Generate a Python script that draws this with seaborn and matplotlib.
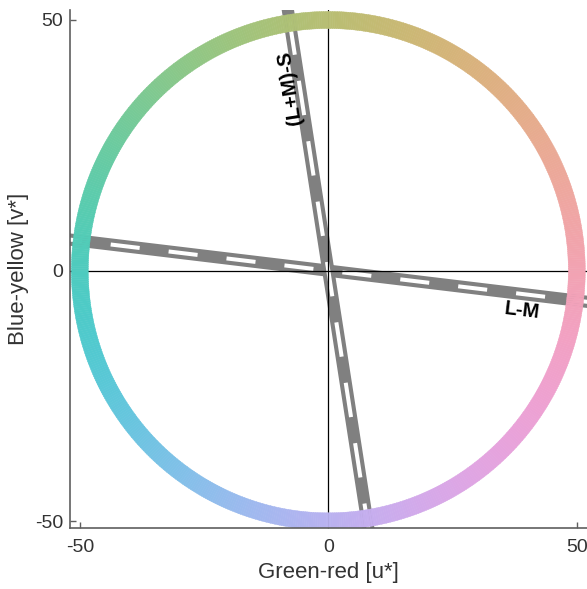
import numpy as np
import pandas as pd
import matplotlib
matplotlib.use("Agg")
import matplotlib.pyplot as plt
from matplotlib.patches import Wedge
import seaborn as sns

# Hue circle in the CIE L*u*v* plane
ring_lightness = 75.0
ring_chroma = 50.0
ring_width = 3.4

# Cone-opponent axes projected into the u*v* plane (direction in degrees)
axis_names = ["L-M", "(L+M)-S"]
axis_angle_deg = [-6.8, 98.9]
axis_label_pos = [(39.0, -8.0), (-7.7, 36.4)]
axis_label_rot = [-6.8, 98.9]

tick_values = [-50, 0, 50]
tick_labels = ["-50", "0", "50"]


def luv_to_srgb(L, u, v):
    xn, yn, zn = 0.95047, 1.0, 1.08883
    un = 4 * xn / (xn + 15 * yn + 3 * zn)
    vn = 9 * yn / (xn + 15 * yn + 3 * zn)
    up = u / (13 * L) + un
    vp = v / (13 * L) + vn
    Y = ((L + 16) / 116) ** 3 if L > 8 else L / 903.3
    X = Y * 9 * up / (4 * vp)
    Z = Y * (12 - 3 * up - 20 * vp) / (4 * vp)
    m = np.array([[3.2406, -1.5372, -0.4986],
                  [-0.9689, 1.8758, 0.0415],
                  [0.0557, -0.2040, 1.0570]])
    rgb = m @ np.array([X, Y, Z])
    rgb = np.clip(rgb, 0, 1)
    rgb = np.where(rgb <= 0.0031308, 12.92 * rgb, 1.055 * rgb ** (1 / 2.4) - 0.055)
    return tuple(np.clip(rgb, 0, 1))


sns.set_theme(style="ticks")
plt.rcParams["font.family"] = ["Liberation Sans", "DejaVu Sans"]
plt.rcParams["lines.scale_dashes"] = False

fig = plt.figure(figsize=(5.87, 5.89), dpi=100)
ax = fig.add_axes([0.1193, 0.1031, 0.8807, 0.880])

# Opponent axes: grey band with a white dashed centre line
dash_specs = [(3.0, (21.0, 21.0)), (6.0, (25.0, 19.0))]
for name, ang, (off, seq) in zip(axis_names, axis_angle_deg, dash_specs):
    t = np.array([-80.0, 80.0])
    a = np.deg2rad(ang)
    df = pd.DataFrame({"u": t * np.cos(a), "v": t * np.sin(a)})
    sns.lineplot(data=df, x="u", y="v", sort=False, color="#808080",
                 lw=8.8, solid_capstyle="butt", zorder=1, ax=ax)
    sns.lineplot(data=df, x="u", y="v", sort=False, color="white",
                 lw=2.9, linestyle=(off, seq), dash_capstyle="butt",
                 zorder=1.2, ax=ax)

ax.axhline(0, color="black", lw=0.9, zorder=1.5)
ax.axvline(0, color="black", lw=0.9, zorder=1.5)

# Coloured hue ring
n_seg = 720
edges = np.linspace(0, 360, n_seg + 1)
for th1, th2 in zip(edges[:-1], edges[1:]):
    mid = np.deg2rad(0.5 * (th1 + th2))
    col = luv_to_srgb(ring_lightness, ring_chroma * np.cos(mid), ring_chroma * np.sin(mid))
    ax.add_patch(Wedge((0, 0), ring_chroma + ring_width / 2, th1, th2 + 0.05,
                       width=ring_width, facecolor=col, edgecolor=col,
                       lw=0.3, zorder=2))

for name, (x, y), rot in zip(axis_names, axis_label_pos, axis_label_rot):
    ax.text(x, y, name, rotation=rot, rotation_mode="anchor", ha="center",
            va="center", fontsize=14.5, fontweight="bold", color="black", zorder=3)

ax.set_xlim(-51.97, 52.05)
ax.set_ylim(-51.38, 52.0)
ax.set_xticks(tick_values)
ax.set_xticklabels(tick_labels)
ax.set_yticks(tick_values)
ax.set_yticklabels(tick_labels)

spine_col = "#5f5f5f"
for s in ["top", "right"]:
    ax.spines[s].set_visible(False)
for s in ["left", "bottom"]:
    ax.spines[s].set_color(spine_col)
    ax.spines[s].set_linewidth(1.2)
ax.tick_params(direction="in", length=4, width=1.0, color=spine_col,
               labelsize=14, labelcolor="#333333")
ax.tick_params(axis="x", pad=8)
ax.tick_params(axis="y", pad=5)

ax.set_xlabel("Green-red [u*]", fontsize=16, color="#333333", labelpad=4)
ax.set_ylabel("Blue-yellow [v*]", fontsize=16, color="#333333", labelpad=4)
ax.set_facecolor("white")
fig.patch.set_facecolor("white")

fig.savefig("out.png", dpi=100, facecolor="white")
